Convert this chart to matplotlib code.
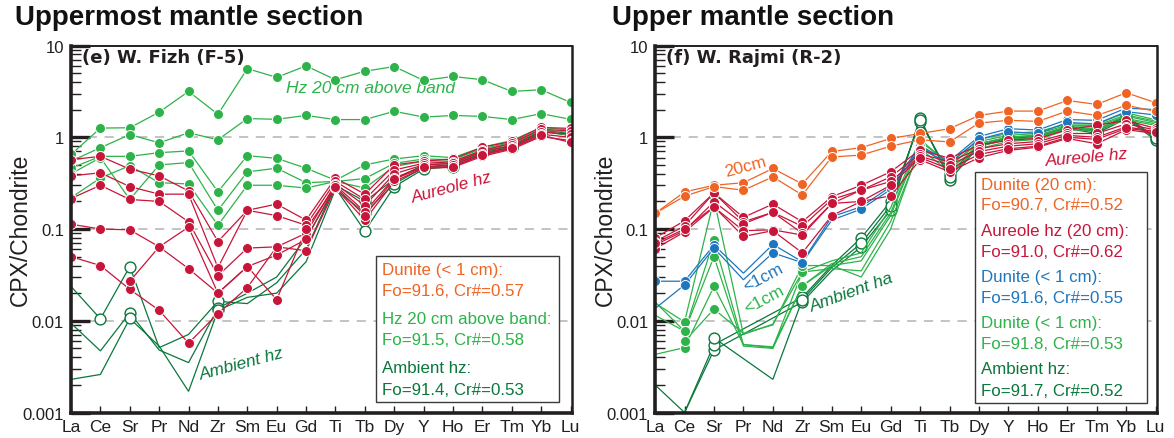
import numpy as np
import matplotlib
matplotlib.use('Agg')
import matplotlib.pyplot as plt
from matplotlib.patches import Rectangle
from matplotlib.ticker import LogLocator, NullFormatter

plt.rcParams['font.family'] = ['Liberation Sans', 'DejaVu Sans']

nan = np.nan
elements = ['La', 'Ce', 'Sr', 'Pr', 'Nd', 'Zr', 'Sm', 'Eu', 'Gd', 'Ti',
            'Tb', 'Dy', 'Y', 'Ho', 'Er', 'Tm', 'Yb', 'Lu']
ytick_vals = [0.001, 0.01, 0.1, 1, 10]
ytick_labels = ['0.001', '0.01', '0.1', '1', '10']

# (e) W. Fizh (F-5)
fizh_hz20 = [
    [0.65, 1.26, 1.27, 1.88, 3.16, 1.78, 5.6, 4.5, 6.0, 4.24, 5.25, 5.9, 4.17, 4.6, 4.24, 3.16, 3.3, 2.4],
    [0.55, 0.77, 1.07, 0.87, 1.12, 0.94, 1.6, 1.57, 1.73, 1.56, 1.56, 1.92, 1.66, 1.73, 1.69, 1.56, 1.81, 1.57],
    [0.46, 0.62, 0.62, 0.68, 0.71, 0.255, 0.63, 0.59, 0.46, 0.34, 0.50, 0.58, 0.63, 0.60, 0.78, 0.92, 1.28, 1.20],
    [0.40, 0.60, 0.21, 0.50, 0.53, 0.16, 0.42, 0.46, 0.32, 0.33, 0.355, 0.52, 0.58, 0.57, 0.75, 0.88, 1.22, 1.12],
    [0.22, 0.36, 0.49, 0.32, 0.31, 0.11, 0.30, 0.30, 0.28, 0.33, 0.28, 0.48, 0.55, 0.55, 0.72, 0.85, 1.18, 1.05],
]
fizh_aureole = [
    [0.57, 0.62, 0.45, 0.38, 0.26, 0.073, 0.16, 0.187, 0.125, 0.36, 0.24, 0.50, 0.55, 0.58, 0.78, 0.90, 1.28, 1.25],
    [0.38, 0.41, 0.29, 0.24, 0.24, 0.038, 0.16, 0.14, 0.11, 0.33, 0.21, 0.44, 0.52, 0.54, 0.72, 0.86, 1.22, 1.18],
    [0.215, 0.30, 0.21, 0.20, 0.12, 0.031, 0.062, 0.064, 0.09, 0.31, 0.18, 0.40, 0.50, 0.52, 0.70, 0.82, 1.15, 1.08],
    [0.113, 0.10, 0.098, 0.064, 0.105, 0.020, 0.039, 0.052, 0.077, 0.30, 0.155, 0.36, 0.48, 0.50, 0.66, 0.78, 1.08, 1.00],
    [0.050, 0.040, 0.022, 0.013, 0.0057, 0.012, 0.023, 0.064, 0.058, 0.28, 0.125, 0.33, 0.46, 0.47, 0.62, 0.74, 1.02, 0.92],
    [nan, nan, 0.027, 0.064, 0.037, 0.020, 0.039, 0.017, 0.10, 0.29, 0.14, 0.35, 0.47, 0.48, 0.64, 0.76, 1.05, 0.88],
]
fizh_ambient = [
    [0.0237, 0.0105, 0.039, 0.0051, 0.0071, 0.0163, 0.0154, 0.026, 0.06, 0.30, 0.20, 0.35, 0.50, 0.52, 0.70, 0.80, 1.20, 1.10],
    [0.0094, 0.0047, 0.0122, 0.0048, 0.0035, 0.0137, 0.02, 0.03, 0.08, 0.28, 0.095, 0.29, 0.45, 0.48, 0.65, 0.76, 1.12, 1.20],
    [0.0023, 0.0026, 0.0106, 0.0053, 0.0017, 0.013, 0.018, 0.020, 0.044, 0.27, 0.15, 0.31, 0.47, 0.50, 0.68, 0.78, 1.15, 1.05],
]
fizh_ambient_marked = [
    ['Ce', 'Sr', 'Zr', 'Tb', 'Dy', 'Y', 'Ho', 'Er', 'Tm', 'Yb', 'Lu'],
    ['Sr', 'Zr', 'Tb', 'Dy', 'Y', 'Ho', 'Er', 'Tm', 'Yb', 'Lu'],
    ['Sr', 'Zr', 'Tb', 'Dy', 'Y', 'Ho', 'Er', 'Tm', 'Yb', 'Lu'],
]

# (f) W. Rajmi (R-2)
rajmi_dunite20 = [
    [0.148, 0.254, 0.30, 0.32, 0.457, 0.31, 0.70, 0.77, 0.97, 1.10, 1.24, 1.73, 1.93, 1.93, 2.52, 2.28, 3.06, 2.38],
    [0.148, 0.228, 0.29, 0.265, 0.37, 0.235, 0.61, 0.64, 0.80, 0.94, 0.89, 1.43, 1.53, 1.49, 1.93, 1.73, 2.23, 1.92],
]
rajmi_aureole = [
    [0.080, 0.123, 0.248, 0.134, 0.187, 0.12, 0.225, 0.30, 0.42, 0.73, 0.59, 0.82, 0.93, 0.97, 1.21, 1.35, 1.53, 1.25],
    [0.073, 0.108, 0.248, 0.12, 0.152, 0.107, 0.21, 0.265, 0.37, 0.66, 0.54, 0.75, 0.85, 0.90, 1.10, 1.10, 1.40, 1.20],
    [0.067, 0.096, 0.198, 0.114, 0.152, 0.09, 0.19, 0.265, 0.33, 0.62, 0.50, 0.70, 0.80, 0.85, 1.05, 1.00, 1.30, 1.15],
    [0.061, 0.093, 0.173, 0.096, 0.098, 0.086, 0.19, 0.20, 0.23, 0.57, 0.42, 0.60, 0.72, 0.78, 0.97, 0.85, 1.21, 1.10],
    [0.070, 0.100, 0.175, 0.083, 0.096, 0.055, 0.14, 0.20, 0.30, 0.60, 0.45, 0.65, 0.75, 0.80, 1.00, 0.95, 1.25, 1.15],
]
rajmi_dunite_blue = [
    [0.027, 0.027, 0.067, 0.033, 0.068, 0.044, 0.136, 0.175, 0.29, 0.80, 0.55, 1.02, 1.24, 1.20, 1.56, 1.53, 2.08, 2.00],
    [0.0136, 0.0246, 0.062, 0.028, 0.055, 0.043, 0.125, 0.165, 0.27, 0.75, 0.52, 0.95, 1.15, 1.10, 1.45, 1.40, 1.90, 1.75],
]
rajmi_dunite_green = [
    [0.0156, 0.0097, 0.21, 0.0071, 0.0092, 0.034, 0.045, 0.055, 0.17, 0.95, 0.50, 0.85, 1.00, 1.05, 1.30, 1.30, 1.70, 1.45],
    [0.0115, 0.0077, 0.05, 0.0053, 0.005, 0.024, 0.040, 0.045, 0.14, 0.85, 0.45, 0.80, 0.95, 1.00, 1.25, 1.25, 1.60, 1.40],
    [0.0043, 0.0051, 0.0237, 0.0055, 0.0051, 0.034, 0.037, 0.035, 0.12, 0.75, 0.42, 0.75, 0.90, 0.95, 1.20, 1.20, 1.55, 1.35],
    [nan, 0.006, 0.0134, 0.0073, 0.009, 0.040, 0.040, 0.030, 0.10, 0.80, 0.48, 0.90, 1.05, 1.10, 1.35, 1.35, 1.75, 1.50],
    [0.016, 0.0077, 0.075, 0.0055, 0.0052, 0.024, 0.042, 0.050, 0.15, 0.90, 0.52, 0.95, 1.10, 1.15, 1.40, 1.40, 1.85, 1.55],
]
rajmi_ambient = [
    [0.002, 0.001, 0.0048, nan, nan, 0.016, 0.035, 0.064, 0.16, 1.64, 0.34, 0.80, 0.95, 1.00, 1.25, 1.10, 1.60, 0.93],
    [nan, 0.001, 0.0055, nan, nan, 0.018, 0.040, 0.080, 0.20, 1.47, 0.40, 0.85, 1.00, 1.05, 1.30, 1.20, 1.70, 1.00],
    [nan, nan, 0.0065, nan, 0.0023, 0.017, 0.038, 0.070, 0.18, 1.55, 0.37, 0.82, 0.97, 1.02, 1.28, 1.15, 1.65, 0.97],
]
rajmi_blue_marked = [
    ['La', 'Ce', 'Sr', 'Nd', 'Zr', 'Eu', 'Gd', 'Ti', 'Tb', 'Dy', 'Y', 'Ho', 'Er', 'Tm', 'Yb', 'Lu'],
    ['Ce', 'Sr', 'Nd', 'Zr', 'Eu', 'Gd', 'Ti', 'Tb', 'Dy', 'Y', 'Ho', 'Er', 'Tm', 'Yb', 'Lu'],
]
rajmi_green_marked = ['Ce', 'Sr', 'Zr']
rajmi_ambient_marked = ['Sr', 'Zr', 'Eu', 'Gd', 'Ti', 'Tb', 'Dy', 'Y', 'Ho', 'Er', 'Tm', 'Yb', 'Lu']

ORANGE = '#EF6424'
RED = '#C8153A'
BLUE = '#1E76BE'
LGREEN = '#2DB34A'
DGREEN = '#0A773C'
INK = '#231F20'

x = np.arange(len(elements))


def spider(ax, rows, color, marked=None, hollow=False, z=2, lw=0.9, ms=7.2):
    for i, row in enumerate(rows):
        y = np.array(row, dtype=float)
        ok = ~np.isnan(y)
        ax.plot(x[ok], y[ok], color=color, lw=lw, zorder=z, solid_joinstyle='miter')
        if marked is None:
            sel = ok
        else:
            names = marked[i] if isinstance(marked[0], list) else marked
            sel = ok & np.isin(elements, names)
        if hollow:
            ax.plot(x[sel], y[sel], ls='none', marker='o', ms=ms + 0.6, mfc='white',
                    mec=color, mew=1.0, zorder=z + 0.5)
        else:
            ax.plot(x[sel], y[sel], ls='none', marker='o', ms=ms, mfc=color,
                    mec='white', mew=0.7, zorder=z + 0.5)


def style_axes(ax, label, ylab_x):
    ax.set_yscale('log')
    ax.set_ylim(0.001, 10)
    ax.set_xlim(0, 17.05)
    for v in [0.01, 0.1, 1]:
        ax.axhline(v, color='#b3b3b3', lw=1.1, ls=(0, (6, 5)), zorder=1)
    ax.set_yticks(ytick_vals)
    ax.set_yticklabels(ytick_labels)
    ax.yaxis.set_minor_locator(LogLocator(base=10, subs=np.arange(2, 10)))
    ax.yaxis.set_minor_formatter(NullFormatter())
    ax.tick_params(axis='y', which='major', direction='in', length=14, width=2.4,
                   labelsize=12, colors=INK, pad=5)
    ax.tick_params(axis='y', which='minor', direction='in', length=7, width=1.0, colors=INK)
    ax.set_xticks(x)
    ax.set_xticklabels(elements)
    ax.tick_params(axis='x', direction='in', length=5, width=1.0, labelsize=12.5,
                   colors=INK, pad=5)
    for side, w in [('left', 2.6), ('bottom', 2.6), ('right', 1.8), ('top', 1.4)]:
        ax.spines[side].set_linewidth(w)
        ax.spines[side].set_color(INK)
        ax.spines[side].set_zorder(10)
    ax.set_ylabel('CPX/Chondrite', fontsize=16.5, color=INK)
    ax.yaxis.set_label_coords(ylab_x, 0.5)
    ax.text(0.022, 0.968, label, transform=ax.transAxes, fontsize=13,
            fontweight='bold', family='DejaVu Sans', color=INK, va='center', zorder=12)


def legend_box(ax, x0, y0, x1, y1, entries, tx, ty):
    ax.add_patch(Rectangle((x0, y0), x1 - x0, y1 - y0, transform=ax.transAxes,
                           facecolor='white', edgecolor='#3a3a3a', lw=1.0, zorder=11))
    for i, (txt, col) in enumerate(entries):
        ax.text(tx, ty[i], txt, transform=ax.transAxes, color=col, fontsize=12.2,
                va='center', ha='left', zorder=12)


fig = plt.figure(figsize=(11.74, 4.39), dpi=100)
ax1 = fig.add_axes([0.0605, 0.058, 0.4267, 0.836])
ax2 = fig.add_axes([0.558, 0.058, 0.4276, 0.836])

# left panel
spider(ax1, fizh_ambient, DGREEN, marked=fizh_ambient_marked, hollow=True, z=2)
spider(ax1, fizh_hz20, LGREEN, z=3)
spider(ax1, fizh_aureole, RED, z=4)
style_axes(ax1, '(e) W. Fizh (F-5)', -0.078)
ax1.text(0.598, 0.885, 'Hz 20 cm above band', transform=ax1.transAxes, color=LGREEN,
         fontsize=12.5, style='italic', ha='center', va='center')
ax1.text(0.76, 0.616, 'Aureole hz', transform=ax1.transAxes, color=RED,
         fontsize=12.5, style='italic', ha='center', va='center', rotation=15)
ax1.text(0.34, 0.135, 'Ambient hz', transform=ax1.transAxes, color=DGREEN,
         fontsize=12.5, style='italic', ha='center', va='center', rotation=15)
ty1 = [(413.5 - p) / 367 for p in [270, 291, 319, 340, 368, 390]]
legend_box(ax1, 0.608, 0.028, 0.975, 0.4256,
           [('Dunite (< 1 cm):', ORANGE), ('Fo=91.6, Cr#=0.57', ORANGE),
            ('Hz 20 cm above band:', LGREEN), ('Fo=91.5, Cr#=0.58', LGREEN),
            ('Ambient hz:', DGREEN), ('Fo=91.4, Cr#=0.53', DGREEN)],
           0.621, ty1)

# right panel
spider(ax2, rajmi_ambient, DGREEN, marked=rajmi_ambient_marked, hollow=True, z=2)
spider(ax2, rajmi_dunite_green, LGREEN, marked=rajmi_green_marked, z=3)
spider(ax2, rajmi_dunite_blue, BLUE, marked=rajmi_blue_marked, z=4)
spider(ax2, rajmi_aureole, RED, z=5)
spider(ax2, rajmi_dunite20, ORANGE, z=6)
style_axes(ax2, '(f) W. Rajmi (R-2)', -0.076)
ax2.text(0.18, 0.672, '20cm', transform=ax2.transAxes, color=ORANGE,
         fontsize=12.5, ha='center', va='center', rotation=15, zorder=12)
ax2.text(0.86, 0.696, 'Aureole hz', transform=ax2.transAxes, color=RED,
         fontsize=12.5, style='italic', ha='center', va='center', rotation=5, zorder=12)
ax2.text(0.215, 0.369, '<1cm', transform=ax2.transAxes, color=BLUE,
         fontsize=12.5, ha='center', va='center', rotation=28, zorder=12)
ax2.text(0.217, 0.31, '<1cm', transform=ax2.transAxes, color=LGREEN,
         fontsize=12.5, ha='center', va='center', rotation=28, zorder=12)
ax2.text(0.392, 0.328, 'Ambient ha', transform=ax2.transAxes, color=DGREEN,
         fontsize=12.5, style='italic', ha='center', va='center', rotation=20, zorder=12)
ty2 = [(413.5 - p) / 367 for p in [185, 205, 231.7, 252, 277, 298, 323, 344, 369, 391]]
legend_box(ax2, 0.637, 0.026, 0.9795, 0.656,
           [('Dunite (20 cm):', ORANGE), ('Fo=90.7, Cr#=0.52', ORANGE),
            ('Aureole hz (20 cm):', RED), ('Fo=91.0, Cr#=0.62', RED),
            ('Dunite (< 1 cm):', BLUE), ('Fo=91.6, Cr#=0.55', BLUE),
            ('Dunite (< 1 cm):', LGREEN), ('Fo=91.8, Cr#=0.53', LGREEN),
            ('Ambient hz:', DGREEN), ('Fo=91.7, Cr#=0.52', DGREEN)],
           0.649, ty2)

fig.text(15 / 1174, 1 - 18 / 439, 'Uppermost mantle section', fontsize=20,
         fontweight='bold', color='#111111', va='center', ha='left')
fig.text(612 / 1174, 1 - 18 / 439, 'Upper mantle section', fontsize=20,
         fontweight='bold', color='#111111', va='center', ha='left')

fig.savefig('out.png', dpi=100)
